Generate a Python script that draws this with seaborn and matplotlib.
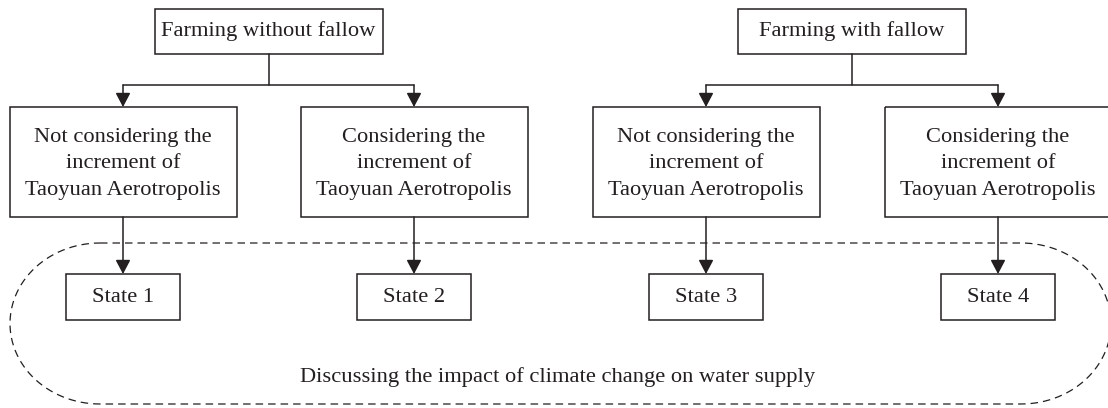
import numpy as np
import seaborn as sns
import matplotlib.pyplot as plt
from matplotlib.patches import Rectangle
from matplotlib.path import Path
from matplotlib.patches import PathPatch

# labels of the flow chart
top_labels = ["Farming without fallow", "Farming with fallow"]
mid_labels = ["Not considering the\nincrement of\nTaoyuan Aerotropolis",
              "Considering the\nincrement of\nTaoyuan Aerotropolis",
              "Not considering the\nincrement of\nTaoyuan Aerotropolis",
              "Considering the\nincrement of\nTaoyuan Aerotropolis"]
state_labels = ["State 1", "State 2", "State 3", "State 4"]
footer_label = "Discussing the impact of climate change on water supply"

sns.set_style("white")
plt.rcParams['font.family'] = ['Liberation Serif', 'DejaVu Serif']

INK = "#231f20"
FS = 16.2

# layout (pixel coords, y down)
col_x = [123, 414, 706, 998]
top_x = [(col_x[0] + col_x[1]) / 2, (col_x[2] + col_x[3]) / 2]
top_w, top_y0, top_y1 = 228, 9, 54
mid_w, mid_y0, mid_y1 = 227, 107, 217
st_w, st_y0, st_y1 = 114, 274, 320
bar_y = 85

fig = plt.figure(figsize=(11.08, 4.08), dpi=100)
ax = fig.add_axes([0, 0, 1, 1])
ax.set_xlim(0, 1108)
ax.set_ylim(408, 0)
ax.axis("off")


def box(cx, y0, y1, w, label, dy=0):
    ax.add_patch(Rectangle((cx - w / 2, y0), w, y1 - y0, fill=False,
                           ec=INK, lw=1.1, zorder=3))
    ax.text(cx, (y0 + y1) / 2 + dy, label, ha="center", va="center",
            fontsize=FS, color=INK, linespacing=1.57, zorder=4)


def arrow(x, ya, yb):
    ax.annotate("", xy=(x, yb), xytext=(x, ya),
                arrowprops=dict(arrowstyle="-|>,head_length=0.85,head_width=0.45",
                                mutation_scale=10, color=INK, lw=1.1,
                                shrinkA=0, shrinkB=0), zorder=2)


# top boxes and connectors
for i, lab in enumerate(top_labels):
    box(top_x[i], top_y0, top_y1, top_w, lab)
    ax.plot([top_x[i], top_x[i]], [top_y1, bar_y], color=INK, lw=1.1)
    xa, xb = col_x[2 * i], col_x[2 * i + 1]
    ax.plot([xa, xb], [bar_y, bar_y], color=INK, lw=1.1)
    arrow(xa, bar_y, mid_y0)
    arrow(xb, bar_y, mid_y0)

# middle boxes and states
for i in range(4):
    box(col_x[i], mid_y0, mid_y1, mid_w, mid_labels[i], dy=2)
    arrow(col_x[i], mid_y1, st_y0)
    box(col_x[i], st_y0, st_y1, st_w, state_labels[i])

# dashed stadium around the states
cy, ry, rx = 323.5, 80.5, 90
xl, xr = 100, 1021
t = np.linspace(np.pi / 2, -np.pi / 2, 60)
right = np.column_stack([xr + rx * np.cos(t), cy - ry * np.sin(t)])
t2 = np.linspace(np.pi / 2, 3 * np.pi / 2, 60)
left = np.column_stack([xl + rx * np.cos(t2), cy + ry * np.sin(t2)])
pts = np.vstack([[xl, cy - ry], right, left, [[xl, cy - ry]]])
ax.add_patch(PathPatch(Path(pts), fill=False, ec=INK, lw=0.9,
                       ls=(0, (6, 4)), zorder=1))

ax.text(558, 377, footer_label, ha="center", va="center", fontsize=FS, color=INK)

fig.savefig("out.png", dpi=100)
